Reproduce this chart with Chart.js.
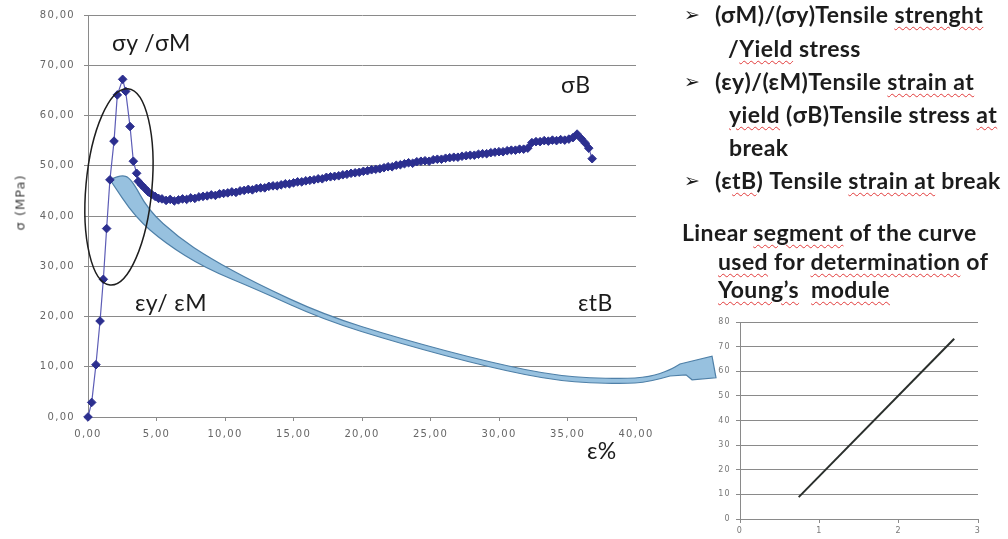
<!DOCTYPE html>
<html lang="en">
<head>
  <meta charset="UTF-8">
  <title>Tensile test – stress / strain</title>
  <script src="https://cdn.jsdelivr.net/npm/chart.js@4.4.1/dist/chart.umd.min.js"></script>
  <style>
    * { box-sizing: border-box; }
    body {
      margin: 0;
      width: 1008px;
      height: 539px;
      overflow: hidden;
      position: relative;
      background: #fff;
      color: #1c1c1c;
      font-family: "Lato", "Noto Sans", sans-serif;
    }
    canvas { position: absolute; }
    #mainChart { left: 0; top: 0; }
    #youngChart { left: 700px; top: 310px; }
    /* labels sitting on the main plot */
    .lbl { position: absolute; font-size: 23px; line-height: 24px; letter-spacing: 0.4px; white-space: nowrap; }
    /* notes on the right */
    .note { position: absolute; font-size: 23px; line-height: 24px; letter-spacing: 0.4px; font-weight: 700; white-space: nowrap; }
    .bullet { position: absolute; font-family: "DejaVu Sans", sans-serif; font-size: 19px; line-height: 24px; }
    .ytitle {
      position: absolute; left: -30px; top: 195px; width: 100px;
      text-align: center; transform: rotate(-90deg);
      font-family: "DejaVu Sans", sans-serif; font-size: 13px; letter-spacing: 1px; color: #444;
    }
    /* spell-checker squiggle */
    .sp { text-decoration: underline wavy #e23b3b; text-decoration-thickness: 1px; text-underline-offset: 3px; }
  </style>
</head>
<body>
  <canvas id="mainChart" width="1008" height="539"></canvas>
  <canvas id="youngChart" width="308" height="229"></canvas>

  <div class="ytitle">σ (MPa)</div>

  <div class="lbl" style="left:112px; top:30px;">σy /σM</div>
  <div class="lbl" style="left:561px; top:72px;">σB</div>
  <div class="lbl" style="left:135px; top:290px;">εy/ εM</div>
  <div class="lbl" style="left:578px; top:290px;">εtB</div>
  <div class="lbl" style="left:587px; top:438px;">ε%</div>

  <div class="bullet" style="left:684px; top:2px;">➢</div>
  <div class="note" style="left:715px; top:2px;">(σM)/(σy)Tensile <span class="sp">strenght</span></div>
  <div class="note" style="left:728px; top:36px;">/<span class="sp">Yield</span> stress</div>
  <div class="bullet" style="left:684px; top:69px;">➢</div>
  <div class="note" style="left:715px; top:69px;">(εy)/(εM)Tensile <span class="sp">strain at</span></div>
  <div class="note" style="left:729px; top:102px;"><span class="sp">yield</span> (σB)Tensile stress <span class="sp">at</span></div>
  <div class="note" style="left:729px; top:135px;">break</div>
  <div class="bullet" style="left:684px; top:168px;">➢</div>
  <div class="note" style="left:715px; top:168px;">(ε<span class="sp">tB</span>) Tensile <span class="sp">strain at</span> break</div>

  <div class="note" style="left:682px; top:220px;">Linear <span class="sp">segment</span> of the curve</div>
  <div class="note" style="left:718px; top:249px;"><span class="sp">used</span> for <span class="sp">determination</span> of</div>
  <div class="note" style="left:718px; top:277px;"><span class="sp">Young’s</span>&nbsp; <span class="sp">module</span></div>

  <script>
    // --- measured curve: strain (%) and stress (MPa) ---
    const strainPct = [
      0.00, 0.27, 0.58, 0.88, 1.12, 1.36, 1.60, 1.90, 2.14, 2.53, 2.75, 3.07, 3.31, 3.55, 3.67,
      3.90, 4.15, 4.40, 4.65, 4.90, 5.15, 5.40, 5.70, 6.00, 6.30, 6.60, 6.90, 7.20, 7.50, 7.80,
      8.10, 8.40, 8.70, 9.00, 9.30, 9.60, 9.90, 10.20, 10.50, 10.80, 11.10, 11.40, 11.70, 12.00,
      12.30, 12.60, 12.90, 13.20, 13.50, 13.80, 14.10, 14.40, 14.70, 15.00, 15.30, 15.60, 15.90,
      16.20, 16.50, 16.80, 17.10, 17.40, 17.70, 18.00, 18.30, 18.60, 18.90, 19.20, 19.50, 19.80,
      20.10, 20.40, 20.70, 21.00, 21.30, 21.60, 21.90, 22.20, 22.50, 22.80, 23.10, 23.40, 23.70,
      24.00, 24.30, 24.60, 24.90, 25.20, 25.50, 25.80, 26.10, 26.40, 26.70, 27.00, 27.30, 27.60,
      27.90, 28.20, 28.50, 28.80, 29.10, 29.40, 29.70, 30.00, 30.30, 30.60, 30.90, 31.20, 31.50,
      31.80, 32.10, 32.40, 32.70, 33.00, 33.30, 33.60, 33.90, 34.20, 34.50, 34.80, 35.10, 35.40,
      35.70, 36.00, 36.30, 36.55, 36.80
    ];
    const stressMPa = [
      0.0, 2.9, 10.4, 19.1, 27.4, 37.5, 47.2, 54.9, 64.1, 67.2, 64.8, 57.8, 50.9, 48.5, 46.9,
      46.2, 45.5, 44.8, 44.3, 43.9, 43.5, 43.4, 43.1, 43.3, 43.0, 43.2, 43.4, 43.3, 43.6, 43.5,
      43.8, 43.9, 44.0, 44.2, 44.1, 44.4, 44.5, 44.6, 44.8, 44.7, 45.0, 45.1, 45.3, 45.2,
      45.5, 45.6, 45.6, 45.9, 46.0, 46.0, 46.2, 46.4, 46.4, 46.6, 46.8, 46.8, 47.0,
      47.1, 47.2, 47.4, 47.4, 47.7, 47.8, 47.9, 48.0, 48.2, 48.3, 48.5, 48.6, 48.7,
      48.9, 49.0, 49.2, 49.3, 49.4, 49.6, 49.8, 49.8, 50.1, 50.2, 50.4, 50.6, 50.5,
      50.8, 50.9, 51.0, 50.9, 51.2, 51.3, 51.3, 51.5, 51.6, 51.7, 51.7, 51.9, 52.0,
      52.1, 52.1, 52.3, 52.4, 52.4, 52.6, 52.7, 52.8, 52.8, 53.0, 53.1, 53.1, 53.3,
      53.3, 53.5, 54.6, 54.8, 54.8, 55.0, 54.9, 55.1, 55.0, 55.2, 55.1, 55.3, 55.6,
      56.3, 55.4, 54.5, 53.5, 51.4
    ];

    // --- linear part used for the modulus ---
    const youngStrain = [0.74, 2.70];
    const youngStress = [8.9, 73.2];

    // --- marks drawn on the main plot, in axis units ---
    const ringCenter = [2.26, 45.8];     // strain, stress
    const ringRadius = [2.41, 19.6];     // half-width (strain), half-height (stress)
    const ringTiltDeg = 5.2;

    const arrowUpper = [
      [1.61, 47.2], [2.34, 48.2], [3.14, 47.6], [4.38, 41.2], [6.57, 35.8], [8.91, 31.6],
      [12.19, 26.7], [17.15, 20.4], [22.77, 15.6], [29.34, 10.85], [34.45, 8.06], [38.83, 7.56],
      [41.02, 7.96], [42.48, 9.35], [43.21, 10.55]
    ];
    const arrowHead = [[45.55, 12.1], [45.84, 7.8], [44.09, 7.4], [43.65, 8.4]];
    const arrowLower = [
      [42.48, 8.16], [41.02, 6.97], [38.83, 6.57], [34.45, 7.06], [29.34, 9.85], [22.77, 14.63],
      [17.15, 19.4], [12.41, 25.27], [8.54, 29.65], [5.62, 34.63], [3.43, 39.8], [1.61, 47.2]
    ];

    const comma2 = v => v.toFixed(2).replace('.', ',');
    const tickFont = { family: 'DejaVu Sans', size: 10 };

    // spread the axis digits a little
    const spacedText = {
      id: 'spacedText',
      beforeUpdate(c) { c.ctx.letterSpacing = '1.3px'; },
      beforeDraw(c) { c.ctx.letterSpacing = '1.3px'; }
    };

    function smoothTo(ctx, pts) {
      for (let i = 1; i < pts.length - 1; i++) {
        const mx = (pts[i][0] + pts[i + 1][0]) / 2, my = (pts[i][1] + pts[i + 1][1]) / 2;
        ctx.quadraticCurveTo(pts[i][0], pts[i][1], mx, my);
      }
      ctx.lineTo(pts[pts.length - 1][0], pts[pts.length - 1][1]);
    }

    const annotations = {
      id: 'annotations',
      beforeDatasetsDraw(chart) {
        const { ctx, scales: { x, y } } = chart;
        const px = p => [x.getPixelForValue(p[0]), y.getPixelForValue(p[1])];
        const up = arrowUpper.map(px), head = arrowHead.map(px), low = arrowLower.map(px);
        ctx.save();
        ctx.beginPath();
        ctx.moveTo(up[0][0], up[0][1]);
        smoothTo(ctx, up);
        head.forEach(p => ctx.lineTo(p[0], p[1]));
        ctx.lineTo(low[0][0], low[0][1]);
        smoothTo(ctx, low);
        ctx.closePath();
        ctx.fillStyle = '#97c1df';
        ctx.fill();
        ctx.strokeStyle = '#4f80a8';
        ctx.lineWidth = 1.2;
        ctx.stroke();
        ctx.restore();
      },
      afterDatasetsDraw(chart) {
        const { ctx, scales: { x, y } } = chart;
        const cx = x.getPixelForValue(ringCenter[0]);
        const cy = y.getPixelForValue(ringCenter[1]);
        const rx = Math.abs(x.getPixelForValue(ringCenter[0] + ringRadius[0]) - cx);
        const ry = Math.abs(y.getPixelForValue(ringCenter[1] + ringRadius[1]) - cy);
        ctx.save();
        ctx.beginPath();
        ctx.ellipse(cx, cy, rx, ry, ringTiltDeg * Math.PI / 180, 0, Math.PI * 2);
        ctx.strokeStyle = '#1e1e1e';
        ctx.lineWidth = 1.5;
        ctx.stroke();
        ctx.restore();
      }
    };

    new Chart(document.getElementById('mainChart'), {
      type: 'scatter',
      data: {
        datasets: [{
          data: strainPct.map((v, i) => ({ x: v, y: stressMPa[i] })),
          showLine: true,
          borderColor: '#5c5cb6',
          borderWidth: 1.2,
          pointStyle: 'rectRot',
          pointRadius: 4.3,
          pointBackgroundColor: '#2c2f8f',
          pointBorderColor: '#2c2f8f',
          pointBorderWidth: 1,
          clip: false
        }]
      },
      options: {
        responsive: false,
        animation: false,
        layout: { padding: { top: 15, right: 372, bottom: 82, left: 0 } },
        plugins: { legend: { display: false }, tooltip: { enabled: false } },
        scales: {
          x: {
            type: 'linear', min: 0, max: 40,
            ticks: { stepSize: 5, callback: comma2, color: '#666', font: tickFont, padding: 7, maxRotation: 0 },
            grid: { drawOnChartArea: false, tickLength: 4, color: '#8a8a8a' },
            border: { color: '#8a8a8a' },
            afterFit: s => { s.height = 40; }
          },
          y: {
            min: 0, max: 80,
            ticks: { stepSize: 10, callback: comma2, color: '#666', font: tickFont, padding: 9 },
            grid: { color: '#8a8a8a', tickLength: 4 },
            border: { color: '#8a8a8a' },
            afterFit: s => { s.width = 88; }
          }
        }
      },
      plugins: [spacedText, annotations]
    });

    new Chart(document.getElementById('youngChart'), {
      type: 'scatter',
      data: {
        datasets: [{
          data: youngStrain.map((v, i) => ({ x: v, y: youngStress[i] })),
          showLine: true,
          borderColor: '#2a2f2c',
          borderWidth: 2,
          pointRadius: 0
        }]
      },
      options: {
        responsive: false,
        animation: false,
        layout: { padding: { top: 12, right: 30, bottom: 0, left: 0 } },
        plugins: { legend: { display: false }, tooltip: { enabled: false } },
        scales: {
          x: {
            type: 'linear', min: 0, max: 3,
            ticks: { stepSize: 1, color: '#777', font: { family: 'DejaVu Sans', size: 8 }, padding: 3 },
            grid: { drawOnChartArea: false, tickLength: 4, color: '#8a8a8a' },
            border: { color: '#8a8a8a' },
            afterFit: s => { s.height = 20; }
          },
          y: {
            min: 0, max: 80,
            ticks: { stepSize: 10, color: '#777', font: { family: 'DejaVu Sans', size: 8 }, padding: 5 },
            grid: { color: '#8a8a8a', tickLength: 4 },
            border: { color: '#8a8a8a' },
            afterFit: s => { s.width = 40; }
          }
        }
      },
      plugins: [spacedText]
    });
  </script>
</body>
</html>
